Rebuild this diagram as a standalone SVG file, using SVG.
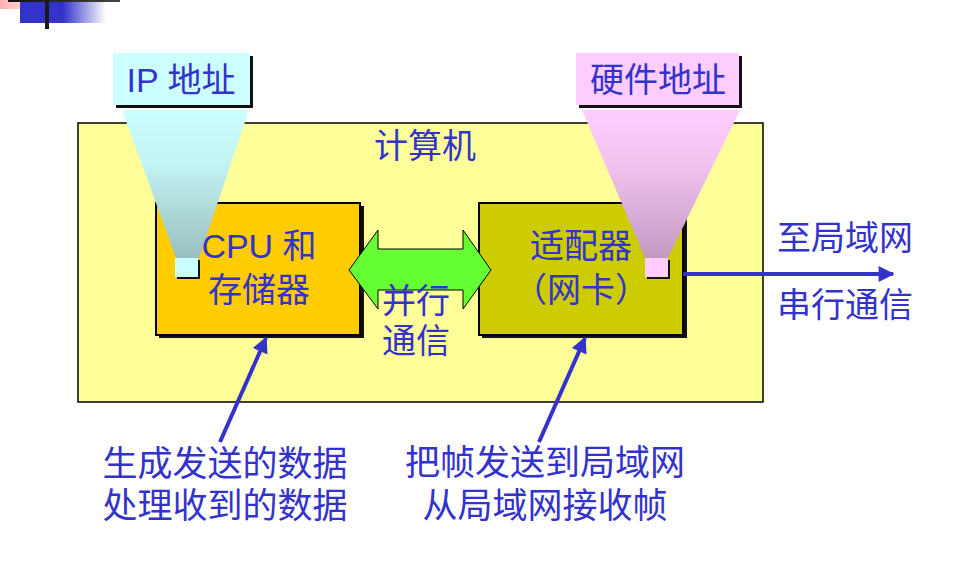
<svg xmlns="http://www.w3.org/2000/svg" width="967" height="569" viewBox="0 0 967 569">
  <defs>
    <linearGradient id="pinkFade" x1="0" y1="0" x2="1" y2="0">
      <stop offset="0" stop-color="#FFB0B0"/>
      <stop offset="1" stop-color="#FFE8E8"/>
    </linearGradient>
    <linearGradient id="blueFade" x1="0" y1="0" x2="1" y2="0">
      <stop offset="0" stop-color="#3333CC"/>
      <stop offset="0.5" stop-color="#3333CC"/>
      <stop offset="1" stop-color="#3333CC" stop-opacity="0"/>
    </linearGradient>
    <linearGradient id="barFade" x1="0" y1="0" x2="1" y2="0">
      <stop offset="0" stop-color="#111111"/>
      <stop offset="1" stop-color="#444444"/>
    </linearGradient>
    <linearGradient id="cyanCone" x1="0" y1="0" x2="0" y2="1">
      <stop offset="0" stop-color="#CCFFFF"/>
      <stop offset="0.35" stop-color="#C4F4F4"/>
      <stop offset="1" stop-color="#99BFBF"/>
    </linearGradient>
    <linearGradient id="pinkCone" x1="0" y1="0" x2="0" y2="1">
      <stop offset="0" stop-color="#FFCCFF"/>
      <stop offset="0.35" stop-color="#F4C4F0"/>
      <stop offset="1" stop-color="#C299C2"/>
    </linearGradient>
    <marker id="head" viewBox="0 0 10 10" refX="9" refY="5" markerWidth="5" markerHeight="4" markerUnits="strokeWidth" orient="auto">
      <path d="M0,0 L10,5 L0,10 z" fill="#3333CC"/>
    </marker>
  </defs>
  <style>
    .t { font-family: "Liberation Sans", "Noto Sans CJK SC", sans-serif; fill: #3333CC; text-anchor: middle; }
    .s34 { font-size: 34px; }
    .s35 { font-size: 35px; }
    .shadow { fill: #111111; }
    .link { stroke: #3333CC; stroke-width: 4; fill: none; marker-end: url(#head); }
  </style>

  <rect width="967" height="569" fill="#FFFFFF"/>

  <!-- title-bar ornament -->
  <g id="ornament">
    <rect x="0" y="0" width="37" height="9" fill="url(#pinkFade)"/>
    <rect x="8" y="0" width="112" height="2" fill="url(#barFade)"/>
    <rect x="20" y="2" width="86" height="21" fill="url(#blueFade)"/>
    <rect x="45" y="0" width="4" height="29" fill="#1A1A1A"/>
  </g>

  <!-- computer enclosure -->
  <g id="computer">
    <rect x="78" y="123" width="685" height="279" fill="#FFFF99" stroke="#000000" stroke-width="1.5"/>
    <text class="t s34" x="425" y="158">计算机</text>
  </g>

  <!-- CPU and memory -->
  <g id="cpu">
    <rect class="shadow" x="159" y="206" width="205" height="132"/>
    <rect x="156" y="203" width="204" height="132" fill="#FFCC00" stroke="#000000" stroke-width="2"/>
    <text class="t s34" x="259" y="258">CPU 和</text>
    <text class="t s34" x="259" y="302">存储器</text>
  </g>

  <!-- adapter (NIC) -->
  <g id="adapter">
    <rect class="shadow" x="482" y="206" width="205" height="132"/>
    <rect x="479" y="203" width="204" height="132" fill="#CCCC00" stroke="#000000" stroke-width="2"/>
    <text class="t s34" x="581" y="258">适配器</text>
    <text class="t s34" x="581" y="302">（网卡）</text>
  </g>

  <!-- parallel bus between CPU and adapter -->
  <g id="bus">
    <path d="M349,270 L378,230 L378,249 L463,249 L463,230 L491,270 L463,309 L463,290 L378,290 L378,309 Z" fill="#66FF33" stroke="#000000" stroke-width="1"/>
    <text class="t s34" x="416" y="313">并行</text>
    <text class="t s34" x="416" y="353">通信</text>
  </g>

  <!-- IP address callout -->
  <g id="ip-address">
    <polygon points="122,110 249,110 199,258 176,258" fill="url(#cyanCone)"/>
    <rect class="shadow" x="116" y="56" width="137" height="52"/>
    <rect x="113" y="53" width="137" height="52" fill="#CCFFFF"/>
    <text class="t s34" x="181" y="92">IP 地址</text>
    <rect class="shadow" x="177" y="260" width="23" height="19"/>
    <rect x="175" y="258" width="23" height="19" fill="#CCFFFF"/>
  </g>

  <!-- hardware address callout -->
  <g id="hw-address">
    <polygon points="582,110 740,110 668,258 645,258" fill="url(#pinkCone)"/>
    <rect class="shadow" x="579" y="56" width="163" height="52"/>
    <rect x="576" y="53" width="163" height="52" fill="#FFCCFF"/>
    <text class="t s34" x="658" y="92">硬件地址</text>
    <rect class="shadow" x="647" y="260" width="23" height="19"/>
    <rect x="645" y="258" width="23" height="19" fill="#FFCCFF"/>
  </g>

  <!-- connectors -->
  <g id="connectors">
    <line class="link" x1="683" y1="274" x2="893" y2="274"/>
    <line class="link" x1="220" y1="442" x2="266" y2="338"/>
    <line class="link" x1="539" y1="442" x2="585" y2="338"/>
  </g>

  <!-- captions -->
  <g id="lan-labels">
    <text class="t s34" x="845" y="250">至局域网</text>
    <text class="t s34" x="845" y="317">串行通信</text>
  </g>
  <g id="cpu-caption">
    <text class="t s35" x="225" y="476">生成发送的数据</text>
    <text class="t s35" x="225" y="518">处理收到的数据</text>
  </g>
  <g id="adapter-caption">
    <text class="t s35" x="545" y="475">把帧发送到局域网</text>
    <text class="t s35" x="545" y="518">从局域网接收帧</text>
  </g>
</svg>
